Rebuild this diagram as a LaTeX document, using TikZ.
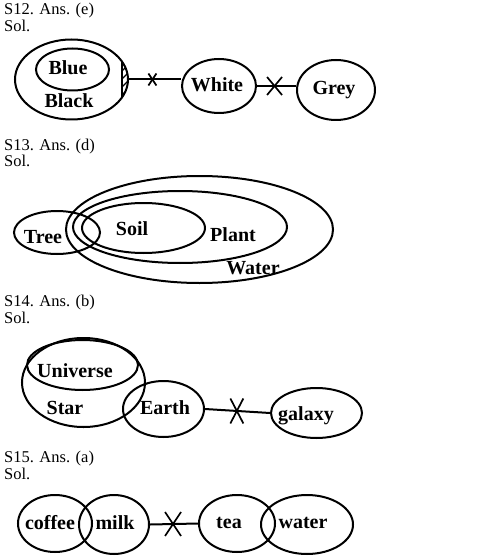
\documentclass[tikz,border=0pt]{standalone}
\usepackage{fontspec}
\setmainfont{Liberation Serif}
\usetikzlibrary{shapes.geometric}
\begin{document}
\begin{tikzpicture}[x=1pt,y=-1pt,
  ell/.style 2 args={draw, ellipse, line width=2pt, inner sep=0pt, minimum width=#1, minimum height=#2},
  lab/.style={inner sep=0pt, font=\fontsize{20}{20}\selectfont\bfseries},
  hdr/.style={anchor=base west, inner sep=0pt, font=\fontsize{16.5}{16.5}\selectfont},
  conn/.style={line width=2pt},
  crossln/.style={line width=1.7pt},
  hatchln/.style={line width=1.1pt}]
\useasboundingbox[fill=white] (0,0) rectangle (503,556);

% ---------- S12 ----------
\node[hdr] (h12) at (4,15) {S12. Ans. (e)};
\node[hdr] (s12) at (4,32) {Sol.};
\node[ell={113pt}{80pt}] (black) at (71.5,79.5) {};
\node[ell={73pt}{42pt}] (blue) at (72.5,69.5) {};
\begin{scope}
  \clip (71.5,79.5) ellipse [x radius=56.5, y radius=40];
  \draw[line width=1.6pt] (121.7,50) -- (121.7,110);
  \clip (121.7,50) rectangle (140,110);
  \foreach \k in {0,...,6}
    \draw[hatchln] (115,{62+\k*8}) -- (140,{37+\k*8});
\end{scope}
\node[lab] (tblue) at (68,68) {Blue};
\node[lab] (tblack) at (69,101) {Black};
\node[ell={74pt}{54pt}] (white) at (219,86) {};
\node[lab] (twhite) at (217,85) {White};
\node[ell={78pt}{60pt}] (grey) at (336,90) {};
\node[lab] (tgrey) at (334,90) {Grey};
\draw[conn] (black.east) -- coordinate[pos=0.45] (x1) (black.east -| white.west);
\draw[conn] (white.east) -- coordinate[pos=0.45] (x2) (white.east -| grey.west);
\draw[crossln] ([shift={(-4,-6)}]x1) -- ([shift={(4,6)}]x1);
\draw[crossln] ([shift={(-4,6)}]x1) -- ([shift={(4,-6)}]x1);
\draw[crossln] ([shift={(-7.5,-9)}]x2) -- ([shift={(7.5,9)}]x2);
\draw[crossln] ([shift={(-7.5,9)}]x2) -- ([shift={(7.5,-9)}]x2);

% ---------- S13 ----------
\node[hdr] (h13) at (4,150) {S13. Ans. (d)};
\node[hdr] (s13) at (4,167) {Sol.};
\node[ell={267pt}{107pt}] (water) at (199.5,229.5) {};
\node[ell={214pt}{72pt}] (plant) at (180,227) {};
\node[ell={123pt}{50pt}] (soil) at (143.5,228) {};
\node[ell={86pt}{43pt}] (tree) at (57,232.5) {};
\node[lab] (ttree) at (43,237) {Tree};
\node[lab] (tsoil) at (132,229) {Soil};
\node[lab] (tplant) at (233,235) {Plant};
\node[lab] (twater) at (253,268) {Water};

% ---------- S14 ----------
\node[hdr] (h14) at (4,306) {S14. Ans. (b)};
\node[hdr] (s14) at (4,323) {Sol.};
\node[ell={123pt}{89pt}] (star) at (83.5,382.5) {};
\node[ell={111pt}{50pt}] (universe) at (82.5,365) {};
\node[ell={81pt}{56pt}] (earth) at (163.5,409) {};
\node[ell={91pt}{50pt}] (galaxy) at (316.5,413) {};
\node[lab] (tuniverse) at (75,371) {Universe};
\node[lab] (tstar) at (65,408) {Star};
\node[lab] (tearth) at (165,408) {Earth};
\node[lab] (tgalaxy) at (306,416) {galaxy};
\draw[conn] (earth.east) -- coordinate[pos=0.49] (x3) (galaxy.west);
\draw[crossln] ([shift={(-6.5,-12.5)}]x3) -- ([shift={(6.5,12.5)}]x3);
\draw[crossln] ([shift={(-6.5,12.5)}]x3) -- ([shift={(6.5,-12.5)}]x3);

% ---------- S15 ----------
\node[hdr] (h15) at (4,462) {S15. Ans. (a)};
\node[hdr] (s15) at (4,479) {Sol.};
\node[ell={74pt}{57pt}] (coffee) at (55,523.5) {};
\node[ell={70pt}{59pt}] (milk) at (114,524.5) {};
\node[ell={76pt}{57pt}] (tea) at (237,523.5) {};
\node[ell={92pt}{59pt}] (wat) at (307,524.5) {};
\node[lab] (tcoffee) at (50,523) {coffee};
\node[lab] (tmilk) at (115,523) {milk};
\node[lab] (ttea) at (229,523) {tea};
\node[lab] (twat) at (303,523) {water};
\draw[conn] (milk.east) -- coordinate[pos=0.48] (x4) (tea.west);
\draw[crossln] ([shift={(-8,-12)}]x4) -- ([shift={(8,12)}]x4);
\draw[crossln] ([shift={(-8,12)}]x4) -- ([shift={(8,-12)}]x4);
\end{tikzpicture}
\end{document}
